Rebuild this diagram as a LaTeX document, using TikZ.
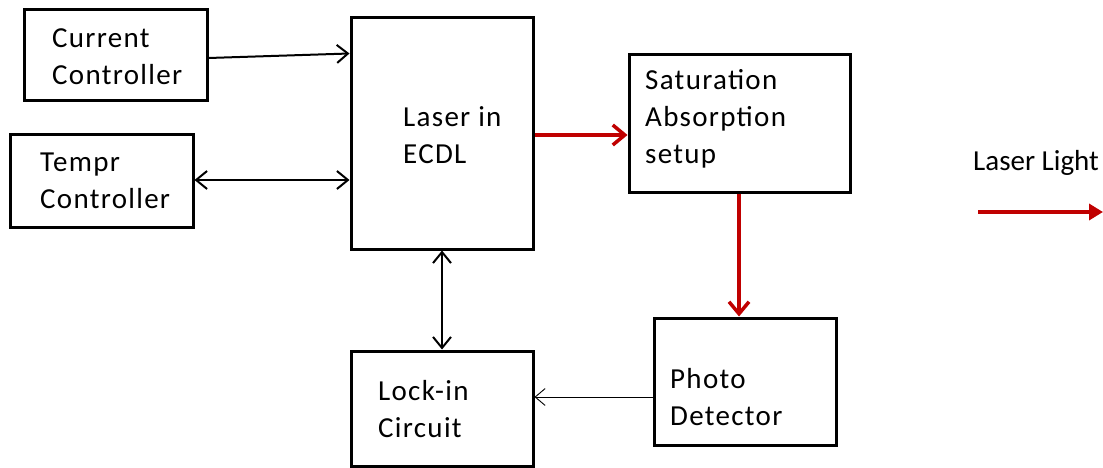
\documentclass[tikz,border=0pt]{standalone}
\usepackage{fontspec}
\setmainfont{Carlito}
\newfontfamily\boxfont{Carlito}[LetterSpace=4.5]
\usetikzlibrary{arrows.meta,calc}
\definecolor{laserred}{RGB}{192,0,0}
\begin{document}
\begin{tikzpicture}[x=1pt,y=-1pt,
  box/.style={draw=black,line width=3pt,inner sep=0pt},
  lbl/.style={anchor=west,inner sep=0pt,align=left,font=\boxfont\fontsize{29}{37}\selectfont},
  legendlbl/.style={anchor=west,inner sep=0pt,align=left,font=\fontsize{29}{37}\selectfont},
  blk/.style={line width=2pt,-{Straight Barb[length=11pt,width=18pt,line width=2pt]}},
  blkboth/.style={line width=2pt,{Straight Barb[length=11pt,width=18pt,line width=2pt]}-{Straight Barb[length=11pt,width=18pt,line width=2pt]}},
  red/.style={draw=laserred,line width=3.5pt,-{Straight Barb[length=12pt,width=20pt,line width=3.5pt]}},
  thin/.style={line width=0.9pt,-{Straight Barb[length=10pt,width=17pt,line width=0.9pt]}}]
\useasboundingbox (0,0) rectangle (1103,468);
% boxes
\node[box,minimum width=183pt,minimum height=91pt] (cur) at (115.5,55.5) {};
\node[box,minimum width=183pt,minimum height=92pt] (tmp) at (101.5,181) {};
\node[box,minimum width=182pt,minimum height=231pt] (las) at (442,133.5) {};
\node[box,minimum width=221pt,minimum height=137pt] (sat) at (739.5,123.5) {};
\node[box,minimum width=182pt,minimum height=127pt] (pd) at (745,381.5) {};
\node[box,minimum width=182pt,minimum height=115pt] (lock) at (442,408.5) {};
% labels
\node[lbl] (tcur) at (52,56.5) {Current\\Controller};
\node[lbl] (ttmp) at (40,181) {Tempr\\Controller};
\node[lbl] (tlas) at (403,135) {Laser in\\ECDL};
\node[lbl] (tsat) at (645,119) {Saturation\\Absorption\\setup};
\node[lbl] (tpd) at (670,397) {Photo\\Detector};
\node[lbl] (tlock) at (378,409) {Lock-in\\Circuit};
\node[legendlbl] (tlegend) at (973,163) {Laser Light};
% connectors
\draw[blk] ($(cur.east)+(0,2.5)$) -- ($(las.north west)+(0,37)$);
\draw[blkboth] (tmp.east|-0,180) -- (las.west|-0,180);
\draw[red] (las.east|-0,135) -- (sat.west|-0,135);
\draw[red] (sat.south-|739,0) -- (pd.north-|739,0);
\draw[blkboth] (las.south) -- (lock.north);
\draw[thin] (pd.west|-0,397) -- (lock.east|-0,397);
% legend arrow
\coordinate (lgA) at (978,212);
\coordinate (lgB) at (1103,212);
\draw[draw=laserred,line width=3.5pt,-{Triangle[length=14pt,width=16pt]},color=laserred] (lgA) -- (lgB);
\end{tikzpicture}
\end{document}
